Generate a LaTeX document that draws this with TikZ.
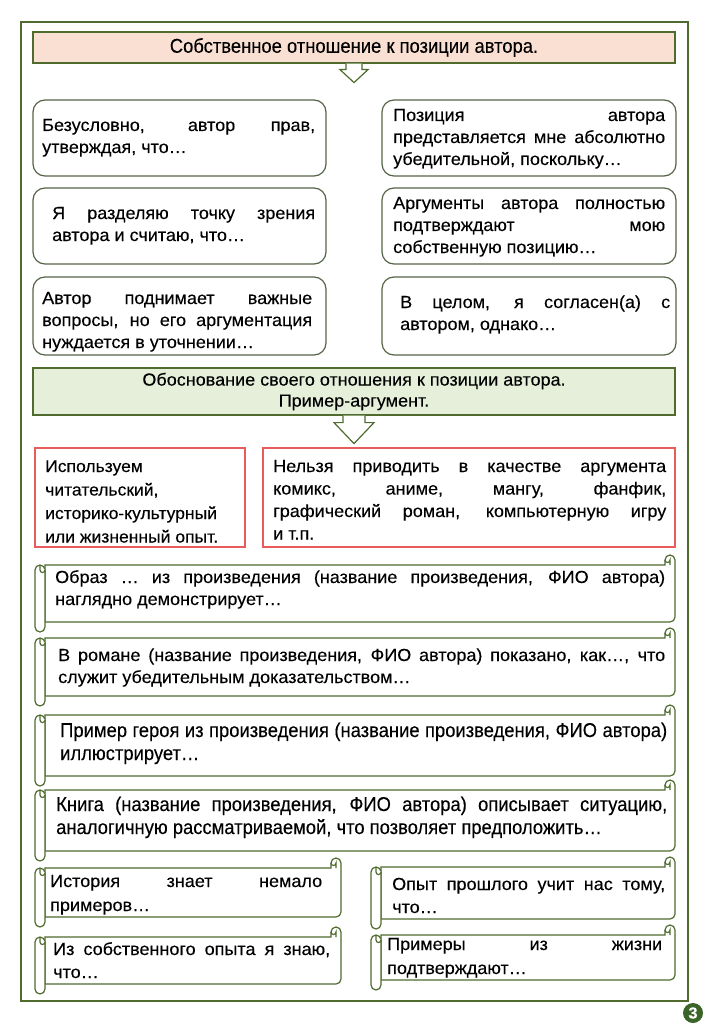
\documentclass[tikz,border=0pt]{standalone}
\usepackage{fontspec}
\setmainfont{Liberation Sans}[FakeStretch=1.03,FakeBold=0.2]
\newfontfamily\narrowf{Liberation Sans}[FakeStretch=0.92,FakeBold=0.2]
\hbadness=10000 \hfuzz=200pt
\definecolor{frameg}{RGB}{79,107,46}
\definecolor{boxg}{RGB}{85,100,70}
\definecolor{peach}{RGB}{250,223,211}
\definecolor{lgreen}{RGB}{229,239,218}
\definecolor{redb}{RGB}{232,92,92}
\definecolor{pgnum}{RGB}{58,100,40}
\newcommand\jl[2]{\hbox to #1pt{#2}}
\newcommand\rl[1]{\hbox{#1}}
\newcommand\scrollshape[4]{%
  \filldraw[scrollst] ({#1+10},#2) -- ({#3-10},#2) -- ({#3-10},{#2-5})
     arc[start angle=180,end angle=360,radius=5] -- (#3,{#4-5})
     arc[start angle=0,end angle=90,radius=5] -- ({#1+10},#4) -- cycle;
  \filldraw[scrollst] (#1,{#2+5}) arc[start angle=180,end angle=360,radius=5]
     -- ({#1+10},{#4+5}) arc[start angle=0,end angle=180,radius=5] -- cycle;
  \draw[scrollst] ({#1+10},{#2+5}) arc[start angle=0,end angle=180,radius=2.5] -- ({#1+5},{#2+1});
  \draw[scrollst] ({#3-10},{#2-5}) arc[start angle=180,end angle=0,radius=2.5] -- ({#3-5},#2);
}
\tikzset{
  rbox/.style={draw=boxg, line width=1.2pt, rounded corners=12pt, fill=white, inner sep=0pt},
  redbox/.style={draw=redb, line width=1.2pt, fill=white, inner sep=0pt},
  scrollst/.style={draw=frameg, line width=1.2pt, fill=white},
  txt/.style={inner sep=0pt, anchor=base west, text=black, font=\fontsize{17.5}{22}\selectfont},
  ntxt/.style={inner sep=0pt, anchor=base west, text=black, font=\narrowf\fontsize{20}{23}\selectfont},
  blockarrow/.style={draw=frameg, line width=1.2pt, fill=white},
}
\begin{document}
\begin{tikzpicture}[x=1pt,y=-1pt]
\useasboundingbox (0,0) rectangle (708,1024);
\fill[white] (0,0) rectangle (708,1024);
\draw[frameg, line width=2.5pt, fill=white] (21,22) rectangle (688,1001);

% banner 1
\node[draw=frameg, line width=1.2pt, fill=peach, minimum width=642, minimum height=31, inner sep=0pt,
      font=\narrowf\fontsize{20}{23}\selectfont] (b1) at (354,47.5) {Собственное отношение к позиции автора.};
\draw[blockarrow] ([xshift=-8pt]b1.south) -- ++(0,6) -- ++(-6,0) -- ++(14,13) -- ++(14,-13) -- ++(-6,0) -- ++(0,-6);

% rounded boxes
\node[rbox, minimum width=293, minimum height=76] (l1) at (179.5,138) {};
\node[rbox, minimum width=293, minimum height=76] (l2) at (179.5,226) {};
\node[rbox, minimum width=293, minimum height=78] (l3) at (179.5,316) {};
\node[rbox, minimum width=294, minimum height=76] (r1) at (529,138) {};
\node[rbox, minimum width=294, minimum height=76] (r2) at (529,226) {};
\node[rbox, minimum width=294, minimum height=78] (r3) at (529,316) {};

\node[txt] (l1t) at (42,131) {\vtop{\jl{273}{Безусловно, автор прав,}\rl{утверждая, что…}}};
\node[txt] (l2t) at (52,219) {\vtop{\jl{263}{Я разделяю точку зрения}\rl{автора и считаю, что…}}};
\node[txt] (l3t) at (42,304) {\vtop{\jl{270}{Автор поднимает важные}\jl{270}{вопросы, но его аргументация}\rl{нуждается в уточнении…}}};
\node[txt] (r1t) at (393,121) {\vtop{\jl{272}{Позиция автора}\jl{272}{представляется мне абсолютно}\rl{убедительной, поскольку…}}};
\node[txt] (r2t) at (393,209) {\vtop{\jl{272}{Аргументы автора полностью}\jl{272}{подтверждают мою}\rl{собственную позицию…}}};
\node[txt] (r3t) at (400,308) {\vtop{\jl{270}{В целом, я согласен(а) с}\rl{автором, однако…}}};

% banner 2
\node[draw=frameg, line width=1.2pt, fill=lgreen, minimum width=642, minimum height=47, inner sep=0pt,
      align=center, font=\fontsize{17.5}{21}\selectfont] (b2) at (354,391.5)
      {Обоснование своего отношения к позиции автора.\\Пример-аргумент.};
\draw[blockarrow] ([xshift=-11pt]b2.south) -- ++(0,7) -- ++(-9,0) -- ++(20,21) -- ++(20,-21) -- ++(-9,0) -- ++(0,-7);

% red boxes
\node[redbox, minimum width=210, minimum height=99] (rl) at (140,497.5) {};
\node[redbox, minimum width=412, minimum height=99] (rr) at (469,497.5) {};
\node[txt, font=\fontsize{17}{23.5}\selectfont] (rlt) at (45,472) {\vtop{\rl{Используем}\rl{читательский,}\rl{историко-культурный}\rl{или жизненный опыт.}}};
\node[txt, font=\fontsize{17.5}{22.5}\selectfont] (rrt) at (273,472) {\vtop{\jl{393}{Нельзя приводить в качестве аргумента}\jl{393}{комикс, аниме, мангу, фанфик,}\jl{393}{графический роман, компьютерную игру}\rl{и т.п.}}};

% scrolls
\scrollshape{35}{565}{675}{622}
\scrollshape{35}{638}{675}{696}
\scrollshape{35}{715}{675}{776}
\scrollshape{35}{790}{675}{851}
\scrollshape{35}{868}{341}{917}
\scrollshape{35}{937}{341}{984}
\scrollshape{371}{867}{675}{919}
\scrollshape{371}{935}{675}{980}

\node[txt] (s1t) at (55,583) {\vtop{\jl{610}{Образ … из произведения (название произведения, ФИО автора)}\rl{наглядно демонстрирует…}}};
\node[txt] (s2t) at (58,661) {\vtop{\jl{607}{В романе (название произведения, ФИО автора) показано, как…, что}\rl{служит убедительным доказательством…}}};
\node[ntxt] (s3t) at (60,737) {\vtop{\jl{607}{Пример героя из произведения (название произведения, ФИО автора)}\rl{иллюстрирует…}}};
\node[ntxt] (s4t) at (56,811) {\vtop{\jl{611}{Книга (название произведения, ФИО автора) описывает ситуацию,}\rl{аналогичную рассматриваемой, что позволяет предположить…}}};
\node[txt, font=\fontsize{17.5}{24}\selectfont] (s5lt) at (50,887) {\vtop{\jl{272}{История знает немало}\rl{примеров…}}};
\node[txt, font=\fontsize{17.5}{23}\selectfont] (s6lt) at (53,955) {\vtop{\jl{277}{Из собственного опыта я знаю,}\rl{что…}}};
\node[txt, font=\fontsize{17.5}{23}\selectfont] (s5rt) at (392,890) {\vtop{\jl{273}{Опыт прошлого учит нас тому,}\rl{что…}}};
\node[txt, font=\fontsize{17.5}{24}\selectfont] (s6rt) at (387,950) {\vtop{\jl{275}{Примеры из жизни}\rl{подтверждают…}}};

% page number
\node[circle, fill=pgnum, minimum size=20, inner sep=0pt, text=white,
      font=\bfseries\fontsize{16}{16}\selectfont] (pg) at (693,1013) {3};
\end{tikzpicture}
\end{document}
